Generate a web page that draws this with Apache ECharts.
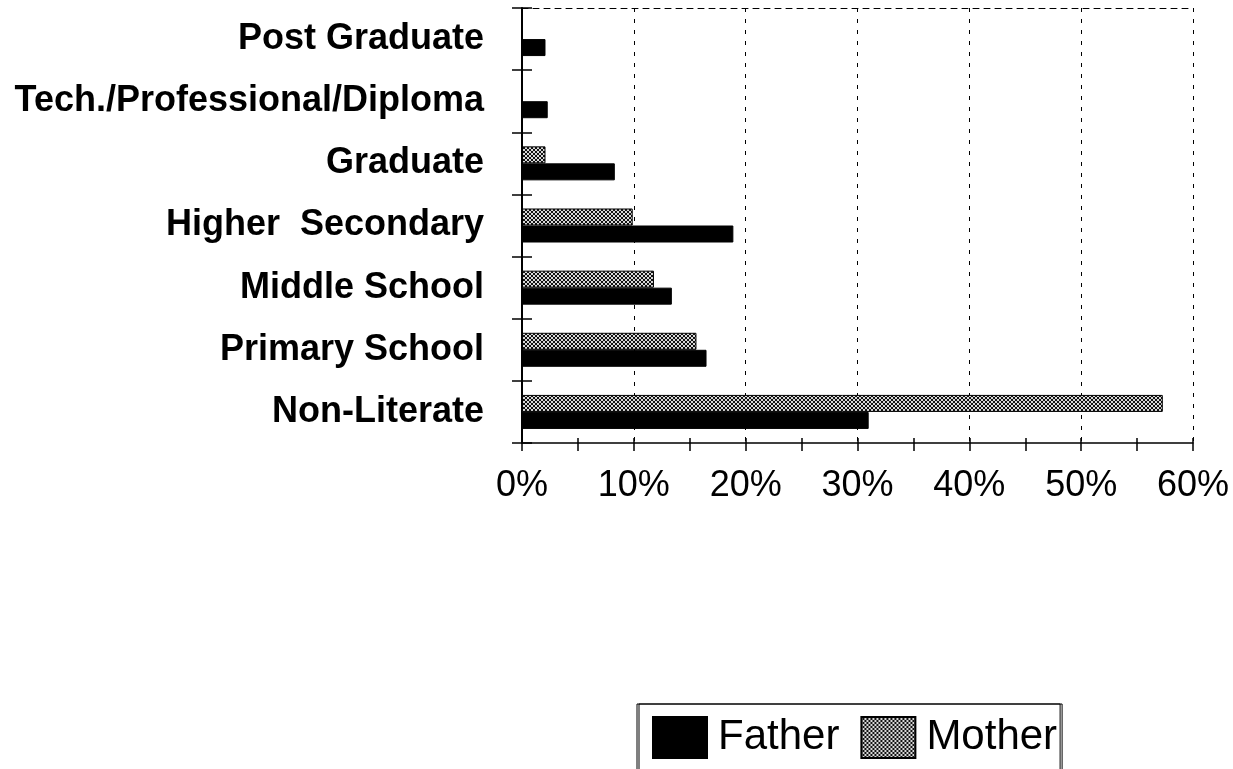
<!DOCTYPE html>
<html>
<head>
<meta charset="utf-8">
<script src="https://cdn.jsdelivr.net/npm/echarts@6/dist/echarts.min.js"></script>
<style>
  html, body { margin: 0; padding: 0; background: #fff; }
  #chart { width: 1233px; height: 769px; }
</style>
</head>
<body>
<div id="chart"></div>
<script>
// Educational level of parents (percentage)
const categories = [
  'Post Graduate',
  'Tech./Professional/Diploma',
  'Graduate',
  'Higher  Secondary',
  'Middle School',
  'Primary School',
  'Non-Literate'
];
const fatherValues = [2.1, 2.3, 8.3, 18.9, 13.4, 16.5, 31.0];
const motherValues = [0, 0, 2.1, 9.9, 11.8, 15.6, 57.3];
const seriesNames = ['Father', 'Mother'];
const axisMin = 0;
const axisMax = 60;
const axisStep = 10;

// Fine cross-hatch fill for the Mother bars
function hatchPattern() {
  const c = document.createElement('canvas');
  c.width = 4; c.height = 4;
  const g = c.getContext('2d');
  g.fillStyle = '#d8d8d8';
  g.fillRect(0, 0, 4, 4);
  g.fillStyle = '#111';
  const cells = [[0,0],[3,0],[1,1],[2,1],[1,2],[2,2],[0,3],[3,3]];
  cells.forEach(function (p) { g.fillRect(p[0], p[1], 1, 1); });
  return { image: c, repeat: 'repeat' };
}

const FONT = '"Liberation Sans", Arial, sans-serif';
const chart = echarts.init(document.getElementById('chart'), null, { renderer: 'canvas' });

chart.setOption({
  backgroundColor: '#ffffff',
  animation: false,
  grid: { left: 522, top: 8, width: 671, height: 435, containLabel: false },
  legend: {
    data: seriesNames,
    icon: 'rect',
    left: 637,
    top: 704,
    orient: 'horizontal',
    padding: [12, 3, 12, 15],
    itemGap: 21,
    itemWidth: 54,
    itemHeight: 41,
    borderColor: '#000',
    borderWidth: 1,
    shadowColor: '#000',
    shadowOffsetX: 2,
    shadowBlur: 0,
    selectedMode: false,
    textStyle: { fontFamily: FONT, fontSize: 42, color: '#000', lineHeight: 41, padding: [0, 0, 0, 6] }
  },
  xAxis: [
    {
      type: 'value',
      position: 'bottom',
      min: axisMin, max: axisMax, interval: axisStep,
      axisLine: { show: true, lineStyle: { color: '#000', width: 1.5 } },
      axisTick: { show: true, inside: false, length: 8, lineStyle: { color: '#000', width: 1.5 } },
      minorTick: { show: true, splitNumber: 2, length: 8, lineStyle: { color: '#000', width: 1.5 } },
      axisLabel: {
        formatter: '{value}%', margin: 25,
        fontFamily: FONT, fontSize: 36, color: '#000'
      },
      splitLine: { show: true, lineStyle: { color: '#000', width: 1, type: [4, 7] } }
    },
    {
      type: 'value',
      position: 'bottom',
      min: axisMin, max: axisMax, interval: axisStep,
      axisLine: { show: false },
      axisTick: { show: true, inside: true, length: 5, lineStyle: { color: '#000', width: 1.5 } },
      minorTick: { show: true, splitNumber: 2, length: 5, lineStyle: { color: '#000', width: 1.5 } },
      axisLabel: { show: false },
      splitLine: { show: false }
    },
    {
      type: 'value',
      position: 'top',
      min: axisMin, max: axisMax, interval: axisStep,
      axisLine: { show: true, lineStyle: { color: '#000', width: 1, type: [6, 5] } },
      axisTick: { show: false },
      axisLabel: { show: false },
      splitLine: { show: false }
    }
  ],
  yAxis: [
    {
      type: 'category',
      data: categories,
      inverse: true,
      position: 'left',
      axisLine: { show: true, lineStyle: { color: '#000', width: 2 } },
      axisTick: { show: true, inside: false, length: 10, lineStyle: { color: '#000', width: 1.5 } },
      axisLabel: {
        margin: 38,
        fontFamily: FONT, fontSize: 36, fontWeight: 'bold', color: '#000'
      },
      splitLine: { show: false }
    },
    {
      type: 'category',
      data: categories,
      inverse: true,
      position: 'left',
      axisLine: { show: false },
      axisTick: { show: true, inside: true, length: 10, lineStyle: { color: '#000', width: 1.5 } },
      axisLabel: { show: false },
      splitLine: { show: false }
    }
  ],
  series: [
    {
      name: 'Mother',
      type: 'bar',
      xAxisIndex: 0,
      yAxisIndex: 0,
      data: motherValues,
      barWidth: 17,
      barGap: '0%',
      itemStyle: { color: hatchPattern(), borderColor: '#000', borderWidth: 1 }
    },
    {
      name: 'Father',
      type: 'bar',
      xAxisIndex: 0,
      yAxisIndex: 0,
      data: fatherValues,
      barWidth: 17,
      barGap: '0%',
      itemStyle: { color: '#000', borderColor: '#000', borderWidth: 1 }
    }
  ]
});
</script>
</body>
</html>
